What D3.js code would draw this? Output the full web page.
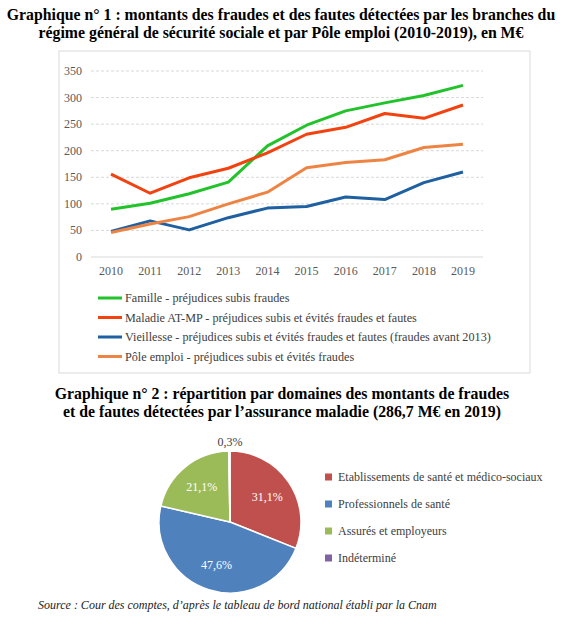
<!DOCTYPE html><html><head><meta charset="utf-8"><script src="https://d3js.org/d3.v7.min.js"></script>
<style>body{margin:0;background:#fff}</style></head><body><svg id="c" width="565" height="622"></svg>
<script>
const years=["2010","2011","2012","2013","2014","2015","2016","2017","2018","2019"];
const famille=[90,101,119,141,209,248,275,290,304,323];
const maladie=[156,120,149,167,196,231,244,270,261,286];
const vieillesse=[48,68,51,74,92,95,113,108,140,160];
const pole=[46,62,76,100,122,168,178,183,206,212];
const yTicks=[0,50,100,150,200,250,300,350];
const seriesNames=["Famille - préjudices subis fraudes","Maladie AT-MP - préjudices subis et évités fraudes et fautes","Vieillesse - préjudices subis et évités fraudes et fautes (fraudes avant 2013)","Pôle emploi - préjudices subis et évités fraudes"];
const seriesColors=["#22c32a","#f1420f","#1f60a0","#ee8444"];
const pieLabels=["Etablissements de santé et médico-sociaux","Professionnels de santé","Assurés et employeurs","Indéterminé"];
const pieValues=[31.1,47.6,21.1,0.3];
const pieColors=["#c0504d","#4f81bd","#9bbb59","#8064a2"];

const svg=d3.select("#c");
const serif="'Liberation Serif', serif";
svg.append("text").attr("x",281).attr("y",20).attr("text-anchor","middle").attr("font-family",serif).attr("font-weight","bold").attr("font-size",15.8).text("Graphique n° 1 : montants des fraudes et des fautes détectées par les branches du");
svg.append("text").attr("x",281).attr("y",38).attr("text-anchor","middle").attr("font-family",serif).attr("font-weight","bold").attr("font-size",15.8).text("régime général de sécurité sociale et par Pôle emploi (2010-2019), en M€");
svg.append("rect").attr("x",59).attr("y",51).attr("width",471).attr("height",322).attr("fill","none").attr("stroke","#d9d9d9");
const x=d3.scalePoint().domain(years).range([111,463]);
const y=d3.scaleLinear().domain([0,350]).range([257,71]);
const g=svg.append("g");
yTicks.forEach(t=>{ if(t>0) g.append("line").attr("x1",91).attr("x2",483).attr("y1",y(t)).attr("y2",y(t)).attr("stroke","#d9d9d9").attr("stroke-dasharray","3,2");
 g.append("text").attr("x",82).attr("y",y(t)+4).attr("text-anchor","end").attr("font-family",serif).attr("font-size",12).attr("fill","#595959").text(t);});
g.append("line").attr("x1",91).attr("x2",483).attr("y1",y(0)).attr("y2",y(0)).attr("stroke","#d9d9d9");
years.forEach(yr=>g.append("text").attr("x",x(yr)).attr("y",275).attr("text-anchor","middle").attr("font-family",serif).attr("font-size",12).attr("fill","#595959").text(yr));
const line=d3.line().x((d,i)=>x(years[i])).y(d=>y(d));
[famille,maladie,vieillesse,pole].forEach((s,i)=>g.append("path").attr("d",line(s)).attr("fill","none").attr("stroke",seriesColors[i]).attr("stroke-width",3).attr("stroke-linejoin","round"));
seriesNames.forEach((n,i)=>{const yy=298+i*19.5;
 g.append("line").attr("x1",98).attr("x2",122).attr("y1",yy).attr("y2",yy).attr("stroke",seriesColors[i]).attr("stroke-width",3);
 g.append("text").attr("x",125).attr("y",yy+4).attr("font-family",serif).attr("font-size",12.2).attr("fill","#404040").text(n);});

svg.append("text").attr("x",282).attr("y",399).attr("text-anchor","middle").attr("font-family",serif).attr("font-weight","bold").attr("font-size",15.8).text("Graphique n° 2 : répartition par domaines des montants de fraudes");
svg.append("text").attr("x",282).attr("y",417).attr("text-anchor","middle").attr("font-family",serif).attr("font-weight","bold").attr("font-size",15.8).text("et de fautes détectées par l’assurance maladie (286,7 M€ en 2019)");
const pc=svg.append("g").attr("transform","translate(230,522)");
const pie=d3.pie().sort(null)(pieValues);
const arc=d3.arc().innerRadius(0).outerRadius(71);
pc.selectAll("path").data(pie).join("path").attr("d",arc).attr("fill",(d,i)=>pieColors[i]).attr("stroke","#fff").attr("stroke-width",1.5);
const la=d3.arc().innerRadius(45).outerRadius(45);
pie.forEach((d,i)=>{ if(i<3){const c=la.centroid(d);
 pc.append("text").attr("x",c[0]).attr("y",c[1]+4).attr("text-anchor","middle").attr("font-family",serif).attr("font-size",12).attr("fill","#fff").text(String(pieValues[i]).replace(".",",")+"%");}});
pc.append("text").attr("x",0).attr("y",-76).attr("text-anchor","middle").attr("font-family",serif).attr("font-size",12).attr("fill","#404040").text("0,3%");
pieLabels.forEach((n,i)=>{const yy=477+i*27;
 svg.append("rect").attr("x",325).attr("y",yy-3.5).attr("width",7).attr("height",7).attr("fill",pieColors[i]);
 svg.append("text").attr("x",338).attr("y",yy+4).attr("font-family",serif).attr("font-size",12).attr("fill","#404040").text(n);});
svg.append("text").attr("x",38).attr("y",609).attr("font-family",serif).attr("font-style","italic").attr("font-size",12).attr("fill","#222").text("Source : Cour des comptes, d’après le tableau de bord national établi par la Cnam");
</script></body></html>
